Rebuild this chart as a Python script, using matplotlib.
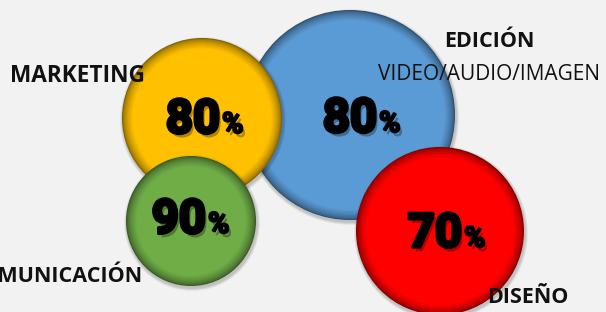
import numpy as np
import matplotlib
matplotlib.use('Agg')
import matplotlib.pyplot as plt
from matplotlib.patches import Circle
from matplotlib import colors as mcolors
import matplotlib.patheffects as pe

# datos
areas = ['MARKETING', 'EDICIÓN', 'COMUNICACIÓN', 'DISEÑO']
valores = [80, 80, 90, 70]
colores = ['#FFC000', '#5B9BD5', '#70AD47', '#FF0000']
subtitulo = 'VIDEO/AUDIO/IMAGEN'

# layout en pixeles (x, y, radio, zorder)
burbujas = [(202, 118, 80, 2), (350, 115, 105, 1), (191, 221, 65, 3), (440, 231, 84, 2)]
# posicion del texto del porcentaje: (x fin numero, linea base)
pos_pct = [(220, 133), (377, 132), (206, 233), (462, 247)]

fig = plt.figure(figsize=(6.06, 3.12), dpi=100, facecolor='#F2F2F2')
ax = fig.add_axes([0, 0, 1, 1])
ax.set_xlim(0, 606)
ax.set_ylim(312, 0)
ax.axis('off')
ax.set_facecolor('#F2F2F2')


def burbuja(x, y, r, color, z):
    base = np.array(mcolors.to_rgb(color))
    oscuro = base * 0.5
    # sombra exterior
    for k in range(6):
        ax.add_patch(Circle((x + 1, y + 2), r + 3 - k * 0.5, color='black',
                            alpha=0.035, lw=0, zorder=z))
    n = 14
    for i in range(n):
        t = (i / (n - 1)) ** 0.6
        c = oscuro * (1 - t) + base * t
        ax.add_patch(Circle((x, y), r - i * 0.8, color=c, lw=0, zorder=z))


for (x, y, r, z), col in zip(burbujas, colores):
    burbuja(x, y, r, col, z)

for (xp, yp), v in zip(pos_pct, valores):
    ax.text(xp, yp, str(v), ha='right', va='baseline', fontsize=34, fontweight='bold',
            family='Roboto', color='black', zorder=10,
            path_effects=[pe.withSimplePatchShadow(offset=(2, -3), shadow_rgbFace='black', alpha=0.3),
                          pe.withStroke(linewidth=2.5, foreground='black')])
    ax.text(xp + 2, yp, '%', ha='left', va='baseline', fontsize=21, fontweight='bold',
            family='Roboto', color='black', zorder=10,
            path_effects=[pe.withSimplePatchShadow(offset=(2, -3), shadow_rgbFace='black', alpha=0.3),
                          pe.withStroke(linewidth=1.5, foreground='black')])

fuente = 'Open Sans'
ax.text(145, 82, areas[0], ha='right', va='baseline', fontsize=16.3, fontweight='bold',
        family=fuente, color='#111111', zorder=11)
ax.text(489, 47, areas[1], ha='center', va='baseline', fontsize=15.5, fontweight='bold',
        family=fuente, color='#111111', zorder=11)
ax.text(489, 80, subtitulo, ha='center', va='baseline', fontsize=15,
        family=fuente, color='#111111', zorder=11)
ax.text(143, 282, areas[2], ha='right', va='baseline', fontsize=15.5, fontweight='bold',
        family=fuente, color='#111111', zorder=11)
ax.text(528, 303, areas[3], ha='center', va='baseline', fontsize=15.5, fontweight='bold',
        family=fuente, color='#111111', zorder=11)

fig.savefig('out.png', dpi=100, facecolor=fig.get_facecolor())
